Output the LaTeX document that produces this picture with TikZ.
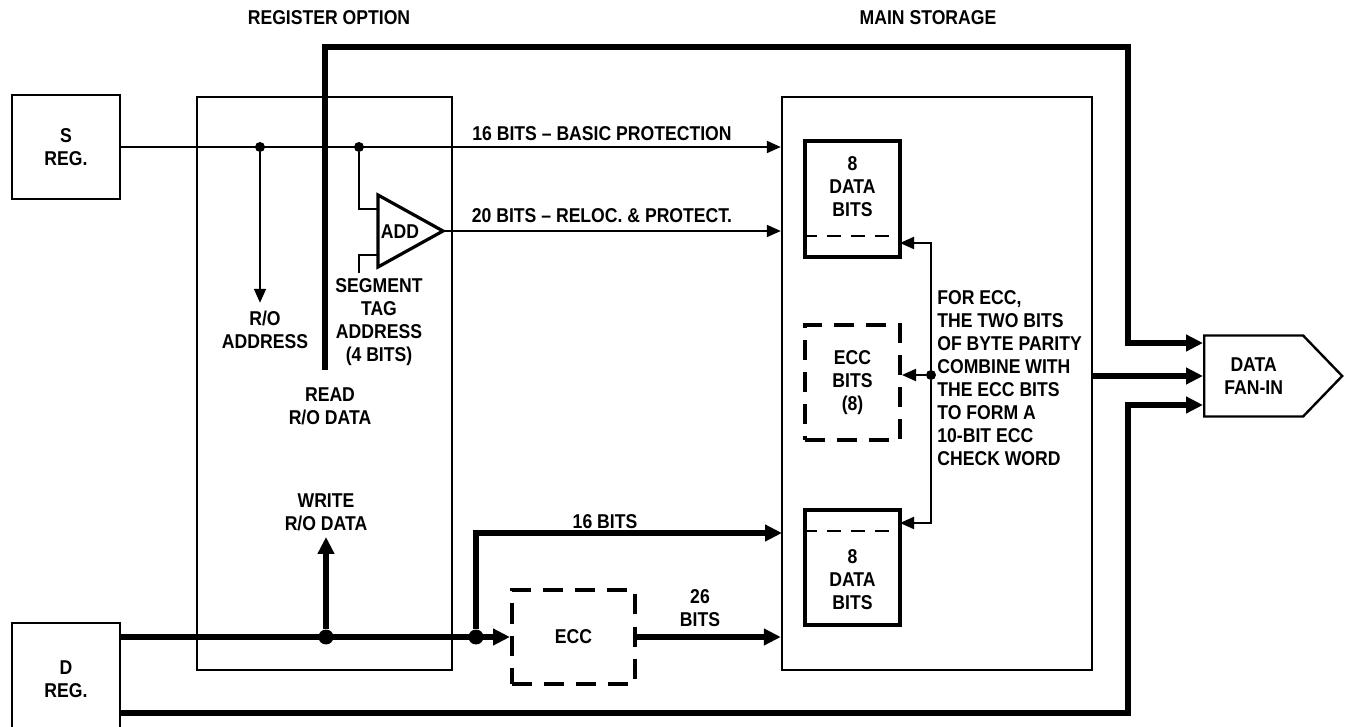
\documentclass[tikz,border=0pt]{standalone}
\usepackage{fontspec}
\setmainfont{Liberation Sans}[FakeStretch=0.88]
\usetikzlibrary{arrows.meta,shapes.symbols}

\begin{document}
\begin{tikzpicture}[x=0.5pt, y=-0.5pt,
  every node/.style={font=\bfseries\fontsize{10}{11.5}\selectfont, align=center, inner sep=0pt},
  box/.style={draw, line width=1.2pt},
  heavybox/.style={draw, line width=2pt},
  dashbox/.style={draw, line width=2pt, dash pattern=on 10pt off 6pt},
  splitline/.style={line width=1pt, dash pattern=on 7pt off 5pt},
  dot/.style={circle, fill, minimum size=5pt},
  bigdot/.style={circle, fill, minimum size=7.5pt},
  thinline/.style={line width=1pt},
  conn/.style={thinline, -{Triangle[length=7pt, width=6pt]}},
  bus/.style={line width=3pt},
  busarrow/.style={bus, -{Triangle[length=8.5pt, width=8pt]}}]
    \useasboundingbox (0,0) rectangle (1346,727);

    \node (regtitle) at (329,18) {REGISTER OPTION};
    \node (msttitle) at (928,18) {MAIN STORAGE};

    \node[box, minimum width=54pt, minimum height=52pt] (sreg) at (66,147) {S\\REG.};
    \node[box, minimum width=54pt, minimum height=56pt] (dreg) at (66,679) {D\\REG.};
    \node[box, minimum width=127.5pt, minimum height=286.5pt] (regopt) at (324.5,383.5) {};
    \node[box, minimum width=155pt, minimum height=286.5pt] (mainst) at (937,383.5) {};

    \node[heavybox, minimum width=47.5pt, minimum height=58pt] (data1) at (852.5,199) {};
    \node (data1t) at (852.5,187) {8\\DATA\\BITS};
    \node[dashbox, minimum width=47.5pt, minimum height=57.5pt] (eccbits) at (852.5,382.5) {ECC\\BITS\\(8)};
    \node[heavybox, minimum width=47.5pt, minimum height=57.5pt] (data2) at (852.5,567.5) {};
    \node (data2t) at (852.5,580) {8\\DATA\\BITS};
    \draw[splitline] ([yshift=11.5pt]data1.south west) -- ([yshift=11.5pt]data1.south east);
    \draw[splitline] ([yshift=-11.5pt]data2.north west) -- ([yshift=-11.5pt]data2.north east);

    \node[dashbox, minimum width=61.5pt, minimum height=46.5pt] (ecc) at (573.5,637) {ECC};
    \node[signal, signal to=east, signal pointer angle=92, box, minimum width=69pt, minimum height=40.5pt, anchor=west] (fanin) at (1203,376) {DATA\\FAN-IN};

    \draw[line width=1.6pt] (378,195) -- (443,231) -- (378,267) -- cycle;
    \node (add) at (400,232) {ADD};
    \coordinate (addin1) at (378,209);
    \coordinate (addin2) at (378,255);
    \coordinate (addout) at (443,231);
    \coordinate (segend) at (359,273);

    \node[dot] (dA) at (260,147) {};
    \node[dot] (dB) at (359,147) {};
    \node (roaddr) at (265,330) {R/O\\ADDRESS};
    \node (segtag) at (379,322) {SEGMENT\\TAG\\ADDRESS\\(4 BITS)};
    \node (readlbl) at (330,406) {READ\\R/O DATA};
    \node (lbl16a) at (602,134) {16 BITS – BASIC PROTECTION};
    \node (lbl20) at (602,216) {20 BITS – RELOC. \& PROTECT.};

    \draw[conn] (sreg.east) -- (mainst.west |- sreg.east);
    \draw[conn] (dA) -- ([yshift=4pt]dA |- roaddr.north);
    \draw[thinline] (dB) |- (addin1);
    \draw[thinline] (segend) |- (addin2);
    \draw[conn] (addout) -- (mainst.west |- addout);

    \coordinate (readend) at (325,370);
    \coordinate (ne) at (1128,47);
    \coordinate (se) at (1128,713);
    \draw[busarrow] (readend) |- (ne) |- ([yshift=16.5pt]fanin.west);
    \draw[busarrow] (mainst.east |- fanin.west) -- (fanin.west);
    \draw[busarrow] (dreg.east |- se) -- (se) |- ([yshift=-14.5pt]fanin.west);

    \node[bigdot] (dC) at (326,637) {};
    \node[bigdot] (dD) at (476,637) {};
    \node (writelbl) at (326,512) {WRITE\\R/O DATA};
    \node (lbl16b) at (605,522) {16 BITS};
    \node (lbl26) at (700,608) {26\\BITS};
    \coordinate (d2in) at (782,533);
    \draw[busarrow] (dreg.east |- dC) -- (ecc.west);
    \draw[busarrow] (dC) -- ([yshift=-3pt]dC |- writelbl.south);
    \draw[busarrow] (dD) |- (d2in);
    \draw[busarrow] (ecc.east) -- (mainst.west |- ecc.east);

    \node[dot] (dE) at (931,375) {};
    \coordinate (d1ecc) at (900,243);
    \coordinate (d2ecc) at (900,523);
    \draw[conn] (dE) -- (eccbits.east |- dE);
    \draw[conn] (dE) |- (d1ecc);
    \draw[conn] (dE) |- (d2ecc);
    \node[align=left, anchor=north west] (ecctext) at (937,290) {FOR ECC,\\THE TWO BITS\\OF BYTE PARITY\\COMBINE WITH\\THE ECC BITS\\TO FORM A\\10-BIT ECC\\CHECK WORD};
\end{tikzpicture}
\end{document}
